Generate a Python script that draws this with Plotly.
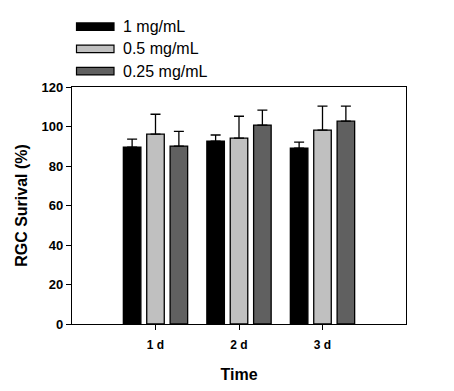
import plotly.graph_objects as go

categories = ["1 d", "2 d", "3 d"]
series_names = ["1 mg/mL", "0.5 mg/mL", "0.25 mg/mL"]
means_1 = [89.6, 92.6, 89.1]
means_05 = [96.1, 94.1, 98.2]
means_025 = [90.1, 100.7, 102.7]
err_1 = [4.0, 3.1, 3.0]
err_05 = [10.1, 11.1, 12.1]
err_025 = [7.4, 7.6, 7.6]
colors = ["#000000", "#c0c0c0", "#606060"]

W, H = 454, 391
L, R, T, B = 72, 48, 87, 67
FONT = "Arial, Liberation Sans, sans-serif"

fig = go.Figure()
for name, m, e, c in zip(series_names, [means_1, means_05, means_025],
                         [err_1, err_05, err_025], colors):
    fig.add_trace(go.Bar(
        x=categories, y=m, name=name,
        marker=dict(color=c, line=dict(color="black", width=1.3)),
        error_y=dict(type="data", symmetric=False, array=e,
                     arrayminus=[0] * len(e), color="black",
                     thickness=1.3, width=5),
    ))

# manual legend with wide swatches
ph = H - T - B
pw = W - L - R
def px_to_paper_x(x):
    return (x - L) / pw
def px_to_paper_y(y):
    return (H - B - y) / ph

shapes = []
annotations = []
for i, (name, c) in enumerate(zip(series_names, colors)):
    yc = 26.7 + 22.2 * i
    shapes.append(dict(type="rect", xref="paper", yref="paper",
                       x0=px_to_paper_x(76.5), x1=px_to_paper_x(114),
                       y0=px_to_paper_y(yc - 3.8), y1=px_to_paper_y(yc + 3.8),
                       fillcolor=c, line=dict(color="black", width=1.2)))
    annotations.append(dict(xref="paper", yref="paper",
                            x=px_to_paper_x(121), y=px_to_paper_y(yc),
                            xanchor="left", yanchor="middle", showarrow=False,
                            text=name, font=dict(family=FONT, size=16, color="black")))

fig.update_layout(
    width=W, height=H,
    margin=dict(l=L, r=R, t=T, b=B, pad=0),
    paper_bgcolor="white", plot_bgcolor="white",
    showlegend=False,
    barmode="group", bargap=0.16, bargroupgap=0.25,
    shapes=shapes, annotations=annotations,
    font=dict(family=FONT, color="black"),
)
fig.update_xaxes(
    type="category", range=[-1, 3], automargin=False,
    showline=True, linecolor="black", linewidth=1.3, mirror=True,
    ticks="outside", ticklen=5, tickwidth=1, tickcolor="black",
    ticklabelstandoff=4,
    showgrid=False, zeroline=False,
    tickfont=dict(family=FONT, size=12, color="black", weight="bold"),
    title=dict(text="<b>Time</b>", font=dict(family=FONT, size=16), standoff=18),
)
fig.update_yaxes(
    range=[0, 120], dtick=20, automargin=False,
    showline=True, linecolor="black", linewidth=1.3, mirror=True,
    ticks="outside", ticklen=5, tickwidth=1, tickcolor="black",
    showgrid=False, zeroline=False,
    tickfont=dict(family=FONT, size=13, color="black", weight="bold"),
    title=dict(text="<b>RGC Surival (%)</b>", font=dict(family=FONT, size=16), standoff=9),
)

fig.write_html("out.html", config={"displayModeBar": False},
               post_script="document.body.style.margin='0';")
